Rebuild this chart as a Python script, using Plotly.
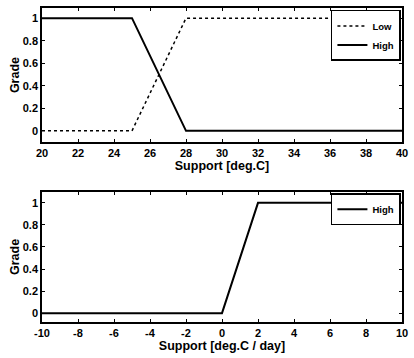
import plotly.graph_objects as go

# Data
temp_x = [20, 25, 28, 40]
temp_low = [0, 0, 1, 1]
temp_high = [1, 1, 0, 0]
rate_x = [-10, 0, 2, 10]
rate_high = [0, 0, 1, 1]

top_xticks = list(range(20, 41, 2))
bot_xticks = list(range(-10, 11, 2))
yticks = [0, 0.2, 0.4, 0.6, 0.8, 1]
ytick_text = ["0", "0.2", "0.4", "0.6", "0.8", "1"]

FONT = dict(family="Liberation Sans, Arial, sans-serif", size=11, color="black")

fig = go.Figure()
fig.add_trace(go.Scatter(x=temp_x, y=temp_low, mode="lines", name="<b>Low</b>",
                         line=dict(color="black", width=1.5, dash="dot"),
                         xaxis="x", yaxis="y", legend="legend"))
fig.add_trace(go.Scatter(x=temp_x, y=temp_high, mode="lines", name="<b>High</b>",
                         line=dict(color="black", width=2),
                         xaxis="x", yaxis="y", legend="legend"))
fig.add_trace(go.Scatter(x=rate_x, y=rate_high, mode="lines", name="<b>High</b>",
                         line=dict(color="black", width=2),
                         xaxis="x2", yaxis="y2", legend="legend2"))

axis_common = dict(showgrid=False, zeroline=False, showline=True, linecolor="black",
                   linewidth=1.5, mirror="allticks", ticks="inside", ticklen=3,
                   tickcolor="black", tickfont=dict(FONT, size=11))

fig.update_layout(
    width=414, height=358,
    margin=dict(l=42, r=9, t=6, b=36),
    paper_bgcolor="white", plot_bgcolor="white",
    font=FONT,
    xaxis=dict(axis_common, domain=[0, 1], range=[20, 40], tickvals=top_xticks,
               ticktext=[f"<b>{v}</b>" for v in top_xticks], anchor="y",
               title=dict(text="<b>Support [deg.C]</b>", standoff=2, font=dict(FONT, size=12.5))),
    yaxis=dict(axis_common, domain=[0.573, 1], range=[-0.1, 1.09], tickvals=yticks,
               ticktext=[f"<b>{t}</b>" for t in ytick_text], anchor="x",
               title=dict(text="<b>Grade</b>", standoff=0, font=dict(FONT, size=12.5))),
    xaxis2=dict(axis_common, domain=[0, 1], range=[-10, 10], tickvals=bot_xticks,
                ticktext=[f"<b>{v}</b>" for v in bot_xticks], anchor="y2",
                title=dict(text="<b>Support [deg.C / day]</b>", standoff=2, font=dict(FONT, size=12.5))),
    yaxis2=dict(axis_common, domain=[0, 0.4146], range=[-0.08, 1.1], tickvals=yticks,
                ticktext=[f"<b>{t}</b>" for t in ytick_text], anchor="x2",
                title=dict(text="<b>Grade</b>", standoff=0, font=dict(FONT, size=12.5))),
    legend=dict(x=0.997, y=0.994, xanchor="right", yanchor="top", bordercolor="black",
                borderwidth=1.5, bgcolor="white", font=dict(FONT, size=9.5),
                tracegroupgap=0, itemwidth=30),
    legend2=dict(x=0.997, y=0.41, xanchor="right", yanchor="top", bordercolor="black",
                 borderwidth=1.5, bgcolor="white", font=dict(FONT, size=9.5),
                 itemwidth=30),
    showlegend=True,
)

fig.write_html("out.html", config={"displayModeBar": False},
               post_script="document.body.style.margin='0px';document.body.style.overflow='hidden';")
